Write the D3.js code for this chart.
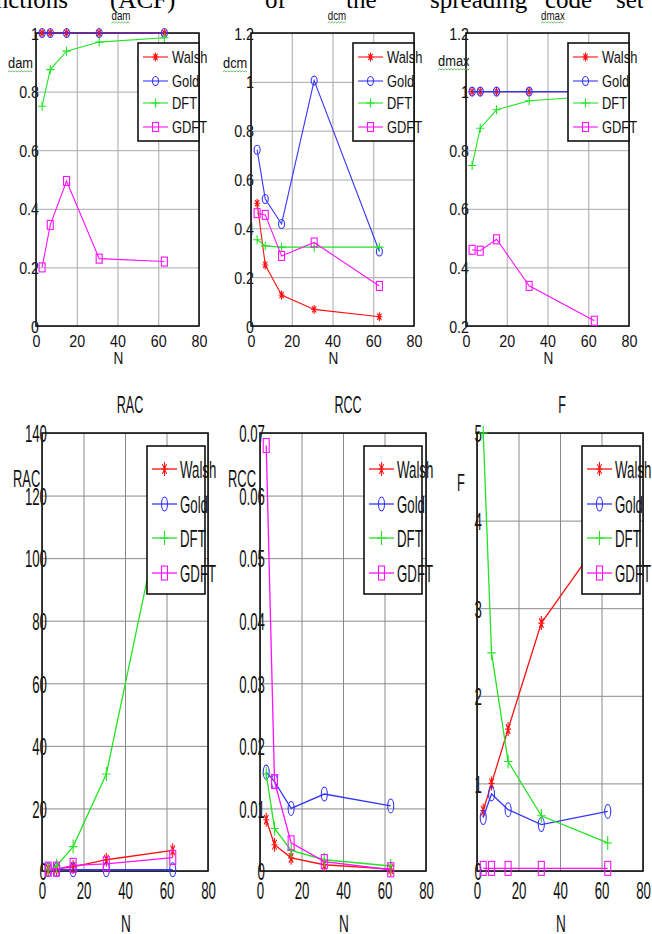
<!DOCTYPE html>
<html><head><meta charset="utf-8">
<script src="https://cdn.jsdelivr.net/npm/d3@7"></script>
<style>html,body{margin:0;padding:0;background:#fff;} svg{display:block;}</style>
</head><body>
<svg id="c" width="652" height="934"></svg>
<script>
// ---------- DATA ----------
const N = [3, 7, 15, 31, 63];
const seriesNames = ["Walsh", "Gold", "DFT", "GDFT"];
const xTicks = [0, 20, 40, 60, 80];

const damWalsh = [1, 1, 1, 1, 1];
const damGold  = [1, 1, 1, 1, 1];
const damDFT   = [0.75, 0.875, 0.938, 0.969, 0.984];
const damGDFT  = [0.20, 0.345, 0.495, 0.23, 0.22];

const dcmWalsh = [0.503, 0.25, 0.127, 0.068, 0.038];
const dcmGold  = [0.722, 0.52, 0.418, 1.005, 0.305];
const dcmDFT   = [0.353, 0.328, 0.323, 0.323, 0.323];
const dcmGDFT  = [0.462, 0.455, 0.287, 0.342, 0.164];

const dmaxWalsh = [1, 1, 1, 1, 1];
const dmaxGold  = [1, 1, 1, 1, 1];
const dmaxDFT   = [0.748, 0.875, 0.938, 0.969, 0.984];
const dmaxGDFT  = [0.46, 0.457, 0.496, 0.337, 0.218];

const racWalsh = [0.5, 0.7, 1.3, 3.6, 6.6];
const racGold  = [0.4, 0.4, 0.4, 0.4, 0.4];
const racDFT   = [0.3, 1.6, 7.8, 31, 132];
const racGDFT  = [0.6, 0.6, 1.8, 2.3, 4.3];

const rccWalsh = [0.0082, 0.0042, 0.0021, 0.0010, 0.0003];
const rccGold  = [0.0158, 0.0143, 0.0100, 0.0123, 0.0104];
const rccDFT   = [0.0155, 0.0068, 0.0033, 0.0018, 0.0008];
const rccGDFT  = [0.0680, 0.0143, 0.0045, 0.0015, 0.0002];

const fWalsh = [0.69, 1.0, 1.62, 2.83, 3.9];
const fGold  = [0.61, 0.88, 0.70, 0.53, 0.68];
const fDFT   = [5.0, 2.49, 1.25, 0.63, 0.32];
const fGDFT  = [0.03, 0.03, 0.03, 0.03, 0.03];

const damTicks  = [0, 0.2, 0.4, 0.6, 0.8, 1];
const dcmTicks  = [0, 0.2, 0.4, 0.6, 0.8, 1, 1.2];
const dmaxTicks = [0.2, 0.4, 0.6, 0.8, 1, 1.2];
const racTicks  = [0, 20, 40, 60, 80, 100, 120, 140];
const rccTicks  = [0, 0.01, 0.02, 0.03, 0.04, 0.05, 0.06, 0.07];
const fTicks    = [0, 1, 2, 3, 4, 5];

const headerWords = ["functions", "(ACF)", "of", "the", "spreading", "code", "set"];

// ---------- STYLE / LAYOUT ----------
const colors = {Walsh: "#ff1010", Gold: "#3535ff", DFT: "#22e422", GDFT: "#ff10ff"};
const markerType = {Walsh: "star", Gold: "o", DFT: "plus", GDFT: "sq"};
const FONT = "'Liberation Sans', Arial, sans-serif";

const rows = {
  top: {y0: 33, y1: 326, fs: 17, sx: 0.84, sy: 1, tickBase: 347, nBase: 364, mk: [6, 9], lw: 1.1, grid: "#a8a8a8",
        leg: {top: 43, h: 98, rows: [14, 38, 60, 84], s0: 5, s1: 30, tx: 34, tsx: 0.76}},
  bottom: {y0: 433, y1: 871, fs: 17, sx: 0.78, sy: 1.45, tickBase: 899, nBase: 932, mk: [6, 14], lw: 1.3, grid: "#8a8a8a",
        leg: {top: 446, h: 148, rows: [23, 58, 92, 127], s0: 5, s1: 30, tx: 33, tsx: 0.78}}
};

const panels = [
  {title: "dam", data: [damWalsh, damGold, damDFT, damGDFT], ticks: damTicks, dom: [0, 1], row: "top",
   x0: 36, x1: 199, legX0: 138, legX1: 199, tX: 121, yl: {x: 8, y: 68}},
  {title: "dcm", data: [dcmWalsh, dcmGold, dcmDFT, dcmGDFT], ticks: dcmTicks, dom: [0, 1.2], row: "top",
   x0: 251, x1: 414, legX0: 353, legX1: 414, tX: 337, yl: {x: 223, y: 68}},
  {title: "dmax", data: [dmaxWalsh, dmaxGold, dmaxDFT, dmaxGDFT], ticks: dmaxTicks, dom: [0.2, 1.2], row: "top",
   x0: 466, x1: 629, legX0: 568, legX1: 629, tX: 553, yl: {x: 438, y: 66}},
  {title: "RAC", data: [racWalsh, racGold, racDFT, racGDFT], ticks: racTicks, dom: [0, 140], row: "bottom",
   x0: 42, x1: 208, legX0: 147, legX1: 205, tX: 130, yl: {x: 13, y: 487}},
  {title: "RCC", data: [rccWalsh, rccGold, rccDFT, rccGDFT], ticks: rccTicks, dom: [0, 0.07], row: "bottom",
   x0: 260, x1: 426, legX0: 364, legX1: 422, tX: 348, yl: {x: 228, y: 487}},
  {title: "F", data: [fWalsh, fGold, fDFT, fGDFT], ticks: fTicks, dom: [0, 5], row: "bottom",
   x0: 477, x1: 643, legX0: 582, legX1: 640, tX: 562, yl: {x: 457, y: 491}}
];

const svg = d3.select("#c");
svg.append("rect").attr("width", 652).attr("height", 934).attr("fill", "#fff");

function txt(g, x, y, s, o) {
  return g.append("text")
    .attr("transform", `translate(${x},${y}) scale(${o.sx || 1},${o.sy || 1})`)
    .attr("text-anchor", o.anchor || "start")
    .attr("font-family", o.family || FONT)
    .attr("font-size", o.fs)
    .attr("fill", o.fill || "#111")
    .text(s);
}
function squiggle(g, x, y, w) {
  let d = `M${x},${y}`;
  let up = true;
  for (let xx = x + 1.5; xx <= x + w; xx += 1.5) { d += `L${xx},${y + (up ? -1.2 : 0)}`; up = !up; }
  g.append("path").attr("d", d).attr("fill", "none").attr("stroke", "#5fb85f").attr("stroke-width", 0.9);
}
function marker(g, type, cx, cy, w, h, color) {
  const s = {stroke: color, "stroke-width": 1.1, fill: "none"};
  const ap = (tag, a) => { const e = g.append(tag); Object.entries(Object.assign({}, s, a)).forEach(([k, v]) => e.attr(k, v)); };
  if (type === "o") ap("ellipse", {cx, cy, rx: w / 2, ry: h / 2});
  else if (type === "sq") ap("rect", {x: cx - w / 2, y: cy - h / 2, width: w, height: h});
  else if (type === "plus") {
    ap("path", {d: `M${cx - w * 0.7},${cy}H${cx + w * 0.7}M${cx},${cy - h / 2}V${cy + h / 2}`});
  } else {
    const a = w / 2, b = h / 2;
    ap("path", {d: `M${cx - a},${cy}H${cx + a}M${cx},${cy - b}V${cy + b}M${cx - a * 0.7},${cy - b * 0.7}L${cx + a * 0.7},${cy + b * 0.7}M${cx - a * 0.7},${cy + b * 0.7}L${cx + a * 0.7},${cy - b * 0.7}`});
  }
}
const fmt = v => String(+v.toFixed(4));

// header (cropped text from the surrounding document)
const headerX = [68, 110, 265, 346, 430, 545, 616];
headerWords.forEach((w, i) => {
  svg.append("text").attr("x", headerX[i]).attr("y", 8)
    .attr("text-anchor", i === 0 ? "end" : "start")
    .attr("font-family", "'Liberation Serif', 'Times New Roman', serif")
    .attr("font-size", 25).attr("fill", "#000").text(w);
});

panels.forEach(p => {
  const R = rows[p.row];
  const g = svg.append("g");
  const x = d3.scaleLinear().domain([0, 80]).range([p.x0, p.x1]);
  const y = d3.scaleLinear().domain(p.dom).range([R.y1, R.y0]);
  const capH = 0.716 * R.fs * R.sy;

  // y grid + labels
  const ya = g.append("g").attr("transform", `translate(${p.x0},0)`)
    .call(d3.axisLeft(y).tickValues(p.ticks).tickSize(-(p.x1 - p.x0)).tickFormat(fmt));
  ya.select(".domain").remove();
  ya.selectAll("line").attr("stroke", R.grid).attr("stroke-width", 1);
  ya.selectAll("text").attr("x", null).attr("dy", null)
    .attr("transform", `translate(${p.row === "top" ? 3 : 5},${capH / 2}) scale(${R.sx},${R.sy})`)
    .attr("font-family", FONT).attr("font-size", R.fs).attr("fill", "#111").attr("text-anchor", "end");

  // x grid + labels
  const xa = g.append("g").attr("transform", `translate(0,${R.y1})`)
    .call(d3.axisBottom(x).tickValues(xTicks).tickSize(-(R.y1 - R.y0)).tickFormat(fmt));
  xa.select(".domain").remove();
  xa.selectAll("line").attr("stroke", R.grid).attr("stroke-width", 1);
  xa.selectAll("text").attr("y", null).attr("dy", null)
    .attr("transform", `translate(0,${R.tickBase - R.y1}) scale(${R.sx},${R.sy})`)
    .attr("font-family", FONT).attr("font-size", R.fs).attr("fill", "#111").attr("text-anchor", "middle");

  // box
  g.append("rect").attr("x", p.x0).attr("y", R.y0).attr("width", p.x1 - p.x0).attr("height", R.y1 - R.y0)
    .attr("fill", "none").attr("stroke", "#111").attr("stroke-width", 1.6);

  // series
  seriesNames.forEach((name, si) => {
    const vals = p.data[si];
    const line = d3.line().x((d, i) => x(N[i])).y(d => y(d));
    g.append("path").datum(vals).attr("d", line).attr("fill", "none")
      .attr("stroke", colors[name]).attr("stroke-width", R.lw);
    vals.forEach((v, i) => marker(g, markerType[name], x(N[i]), y(v), R.mk[0], R.mk[1], colors[name]));
  });

  // legend
  const L = R.leg;
  g.append("rect").attr("x", p.legX0).attr("y", L.top).attr("width", p.legX1 - p.legX0).attr("height", L.h)
    .attr("fill", "#fff").attr("stroke", "#111").attr("stroke-width", 1.6);
  seriesNames.forEach((name, si) => {
    const cy = L.top + L.rows[si];
    g.append("line").attr("x1", p.legX0 + L.s0).attr("x2", p.legX0 + L.s1).attr("y1", cy).attr("y2", cy)
      .attr("stroke", colors[name]).attr("stroke-width", R.lw);
    marker(g, markerType[name], p.legX0 + (L.s0 + L.s1) / 2, cy, R.mk[0], R.mk[1], colors[name]);
    txt(g, p.legX0 + L.tx, cy + capH / 2, name, {fs: R.fs, sx: L.tsx, sy: R.sy});
  });

  // xlabel
  txt(g, (p.x0 + p.x1) / 2 + 1, R.nBase, "N", {fs: R.fs, sx: 0.8, sy: R.sy, anchor: "middle"});

  // title & ylabel
  if (p.row === "top") {
    const t = txt(g, p.tX, 20, p.title, {fs: 13, sx: 0.75, anchor: "middle"});
    const tw = t.node().getComputedTextLength() * 0.75;
    squiggle(g, p.tX - tw / 2, 23, tw);
    const yl = txt(g, p.yl.x, p.yl.y, p.title, {fs: 15, sx: 0.86});
    const yw = yl.node().getComputedTextLength() * 0.86;
    squiggle(g, p.yl.x, p.yl.y + 4, yw);
  } else {
    txt(g, p.tX, 413, p.title, {fs: 17, sx: 0.74, sy: 1.4, anchor: "middle"});
    txt(g, p.yl.x, p.yl.y, p.title, {fs: 17, sx: 0.76, sy: 1.4});
  }
});
</script>
</body></html>
